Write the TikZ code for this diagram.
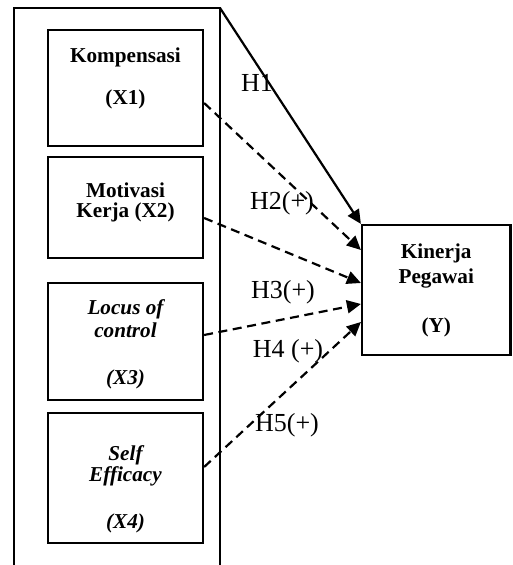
\documentclass[tikz,border=0pt]{standalone}
\usepackage{fontspec}
\setmainfont{Liberation Serif}
\usepackage{tikz}
\usetikzlibrary{arrows.meta, positioning}
\tikzset{
  varbox/.style={draw, line width=1.1pt, align=center, inner sep=0pt,
    font=\fontsize{10.6}{11.5}\selectfont\bfseries},
  hyp/.style={font=\fontsize{13}{14}\selectfont, inner sep=0pt},
  panah/.style={line width=1.1pt, -{Triangle[length=7pt, width=6.5pt]}},
  putus/.style={panah, dash pattern=on 4.5pt off 2.8pt}
}

\begin{document}
\begin{tikzpicture}[x=0.5pt, y=-0.5pt]
\useasboundingbox (0,0) rectangle (512,565);
\coordinate (pojok) at (220,8);
\draw[line width=1.1pt] (14,570) |- (pojok) -- (220,570);
\node[varbox, minimum width=77.5pt, minimum height=58pt] (x1) at (125.5,88) {Kompensasi\\[9.5pt](X1)\rule[-12.2pt]{0pt}{12.2pt}};
\node[varbox, minimum width=77.5pt, minimum height=50.5pt] (x2) at (125.5,207.5) {Motivasi\\[-1.5pt]Kerja (X2)\rule[-7.2pt]{0pt}{7.2pt}};
\node[varbox, minimum width=77.5pt, minimum height=58.5pt, font=\fontsize{10.6}{11.5}\selectfont\bfseries\itshape] (x3) at (125.5,341.5) {\rule{0pt}{10.6pt}Locus of\\control\\[12pt](X3)};
\node[varbox, minimum width=77.5pt, minimum height=65pt, font=\fontsize{10.6}{11.5}\selectfont\bfseries\itshape] (x4) at (125.5,478) {\rule{0pt}{19pt}Self\\[-1pt]Efficacy\\[11.8pt](X4)};
\node[varbox, minimum width=74.25pt, minimum height=65pt] (y) at (436.25,290) {Kinerja\\[1pt]Pegawai\\[13pt](Y)};
\draw[panah] (pojok) -- (y.north west);
\draw[putus] ([yshift=-7.5pt]x1.east) -- ([yshift=20pt]y.west);
\draw[putus] ([yshift=-5.25pt]x2.east) -- ([yshift=3.5pt]y.west);
\draw[putus] ([yshift=3.25pt]x3.east) -- ([yshift=-7pt]y.west);
\draw[putus] ([yshift=5.5pt]x4.east) -- ([yshift=-16pt]y.west);
\node[hyp] (h1) at (257,83) {H1};
\node[hyp] (h2) at (282,203) {H2(+)};
\node[hyp] (h3) at (283,292) {H3(+)};
\node[hyp] (h4) at (288,351) {H4 (+)};
\node[hyp] (h5) at (287,425) {H5(+)};
\end{tikzpicture}
\end{document}
